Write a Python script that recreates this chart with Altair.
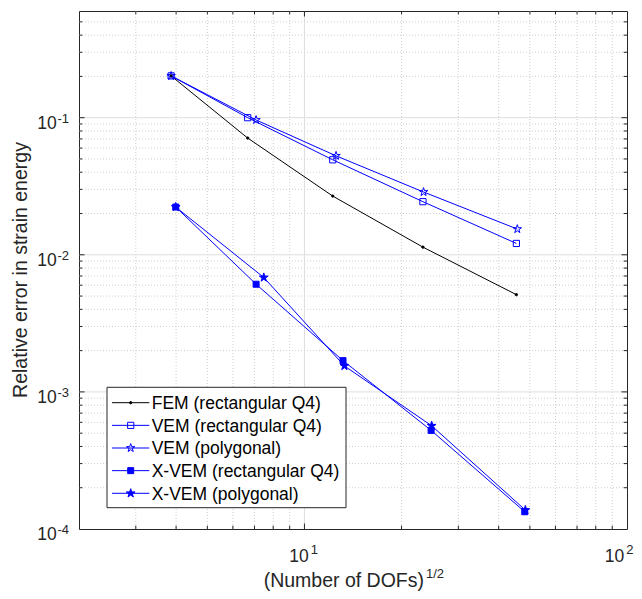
import altair as alt
import pandas as pd

# ---------------- data ----------------
names = ["FEM (rectangular Q4)", "VEM (rectangular Q4)", "VEM (polygonal)",
         "X-VEM (rectangular Q4)", "X-VEM (polygonal)"]

fem_x = [3.86, 6.67, 12.24, 23.3, 45.4]
fem_y = [0.2018, 0.0710, 0.0268, 0.01137, 0.00512]
vem_rect_x = [3.86, 6.67, 12.24, 23.3, 45.4]
vem_rect_y = [0.2018, 0.1000, 0.0493, 0.0244, 0.0121]
vem_poly_x = [3.86, 7.08, 12.53, 23.4, 45.7]
vem_poly_y = [0.2018, 0.0962, 0.0527, 0.0287, 0.0154]
xvem_rect_x = [3.99, 7.08, 13.17, 24.7, 48.2]
xvem_rect_y = [0.0223, 0.0061, 0.00169, 0.000524, 0.0001336]
xvem_poly_x = [3.99, 7.48, 13.3, 24.8, 48.4]
xvem_poly_y = [0.0223, 0.00683, 0.001547, 0.000566, 0.0001374]

x_major = [10]
x_minor = [3, 4, 5, 6, 7, 8, 9, 20, 30, 40, 50, 60, 70, 80, 90]
y_major = [1e-3, 1e-2, 1e-1]
y_minor = [2e-4, 3e-4, 4e-4, 5e-4, 6e-4, 7e-4, 8e-4, 9e-4,
           2e-3, 3e-3, 4e-3, 5e-3, 6e-3, 7e-3, 8e-3, 9e-3,
           2e-2, 3e-2, 4e-2, 5e-2, 6e-2, 7e-2, 8e-2, 9e-2,
           2e-1, 3e-1, 4e-1, 5e-1]
x_tick_vals = [10, 100]
x_tick_exp = ["1", "2"]
y_tick_vals = [1e-4, 1e-3, 1e-2, 1e-1]
y_tick_exp = ["-4", "-3", "-2", "-1"]

# ---------------- styles ----------------
W, H = 548, 518
FONT = "Liberation Sans"
AX = "#262626"
BLUE = "#0000ff"
colors = ["#000000", BLUE, BLUE, BLUE, BLUE]
fills = ["#000000", "transparent", "transparent", BLUE, BLUE]

def star(s):
    pts = [(0, -1), (0.2245, -0.309), (0.9511, -0.309), (0.3633, 0.118),
           (0.5878, 0.809), (0, 0.382), (-0.5878, 0.809), (-0.3633, 0.118),
           (-0.9511, -0.309), (-0.2245, -0.309)]
    return "M" + "L".join(f"{px*s:.4f},{py*s:.4f}" for px, py in pts) + "Z"

def square(s):
    return f"M{-s},{-s}L{s},{-s}L{s},{s}L{-s},{s}Z"

dot = "M0.24,0A0.24,0.24 0 1,1 -0.24,0A0.24,0.24 0 1,1 0.24,0Z"
shapes = [dot, square(0.62), star(0.88), square(0.6), star(0.92)]

XS = alt.Scale(type="log", domain=[2, 100], nice=False)
YS = alt.Scale(type="log", domain=[1e-4, 0.6], nice=False)

series = [(fem_x, fem_y), (vem_rect_x, vem_rect_y), (vem_poly_x, vem_poly_y),
          (xvem_rect_x, xvem_rect_y), (xvem_poly_x, xvem_poly_y)]
rows = []
for n, (xs, ys) in zip(names, series):
    for i, (a, b) in enumerate(zip(xs, ys)):
        rows.append({"series": n, "dofs": a, "err": b, "idx": i})
df = pd.DataFrame(rows)

col_scale = alt.Scale(domain=names, range=colors)
fill_scale = alt.Scale(domain=names, range=fills)
shape_scale = alt.Scale(domain=names, range=shapes)

def xq(f="v"):
    return alt.X(f"{f}:Q", scale=XS, axis=None)

def yq(f="v"):
    return alt.Y(f"{f}:Q", scale=YS, axis=None)

dxmin = pd.DataFrame({"v": x_minor})
dxmaj = pd.DataFrame({"v": x_major})
dymin = pd.DataFrame({"v": y_minor})
dymaj = pd.DataFrame({"v": y_major})

layers = []
# grid
layers.append(alt.Chart(dxmin).mark_rule(color="#cfcfcf", strokeDash=[1, 2], strokeWidth=1)
              .encode(x=xq(), y=alt.value(0), y2=alt.value(H)))
layers.append(alt.Chart(dymin).mark_rule(color="#cfcfcf", strokeDash=[1, 2], strokeWidth=1)
              .encode(y=yq(), x=alt.value(0), x2=alt.value(W)))
layers.append(alt.Chart(dxmaj).mark_rule(color="#dedede", strokeWidth=1)
              .encode(x=xq(), y=alt.value(0), y2=alt.value(H)))
layers.append(alt.Chart(dymaj).mark_rule(color="#dedede", strokeWidth=1)
              .encode(y=yq(), x=alt.value(0), x2=alt.value(W)))

# inward ticks on all four sides
for d, L in ((dxmin, 3.3), (dxmaj, 5.5)):
    layers.append(alt.Chart(d).mark_rule(color=AX, strokeWidth=1)
                  .encode(x=xq(), y=alt.value(H), y2=alt.value(H - L)))
    layers.append(alt.Chart(d).mark_rule(color=AX, strokeWidth=1)
                  .encode(x=xq(), y=alt.value(0), y2=alt.value(L)))
for d, L in ((dymin, 3.3), (dymaj, 5.5)):
    layers.append(alt.Chart(d).mark_rule(color=AX, strokeWidth=1)
                  .encode(y=yq(), x=alt.value(0), x2=alt.value(L)))
    layers.append(alt.Chart(d).mark_rule(color=AX, strokeWidth=1)
                  .encode(y=yq(), x=alt.value(W - L), x2=alt.value(W)))

# data lines and markers
layers.append(alt.Chart(df).mark_line(strokeWidth=1).encode(
    x=xq("dofs"), y=yq("err"),
    color=alt.Color("series:N", scale=col_scale, legend=None),
    order="idx:Q"))
layers.append(alt.Chart(df).mark_point(size=100, strokeWidth=1, opacity=1, filled=True).encode(
    x=xq("dofs"), y=yq("err"),
    shape=alt.Shape("series:N", scale=shape_scale, legend=None),
    stroke=alt.Stroke("series:N", scale=col_scale, legend=None),
    fill=alt.Fill("series:N", scale=fill_scale, legend=None)))

# legend (drawn by hand, MATLAB style)
one = pd.DataFrame({"a": [0]})
leg = pd.DataFrame({"series": names})
LY = alt.Y("series:N", scale=alt.Scale(type="point", domain=names, range=[391.7, 482.3], padding=0), axis=None)
layers.append(alt.Chart(one).mark_rect(fill="white", stroke=AX, strokeWidth=1).encode(
    x=alt.value(28), x2=alt.value(267), y=alt.value(376.3), y2=alt.value(496.7)))
layers.append(alt.Chart(leg).mark_rule(strokeWidth=1).encode(
    y=LY, x=alt.value(33), x2=alt.value(70.3),
    color=alt.Color("series:N", scale=col_scale, legend=None)))
layers.append(alt.Chart(leg).mark_point(size=100, strokeWidth=1, opacity=1, filled=True).encode(
    y=LY, x=alt.value(51.7),
    shape=alt.Shape("series:N", scale=shape_scale, legend=None),
    stroke=alt.Stroke("series:N", scale=col_scale, legend=None),
    fill=alt.Fill("series:N", scale=fill_scale, legend=None)))
layers.append(alt.Chart(leg).mark_text(align="left", baseline="alphabetic", dy=6.3,
                                       font=FONT, fontSize=17.5, color="black").encode(
    y=LY, x=alt.value(72.7), text="series:N"))

# tick labels 10^k
dyt = pd.DataFrame({"v": y_tick_vals, "e": y_tick_exp})
dxt = pd.DataFrame({"v": x_tick_vals, "e": x_tick_exp})
layers.append(alt.Chart(dyt).mark_text(align="right", baseline="alphabetic", dy=11.3,
                                       font=FONT, fontSize=17.5, color=AX).encode(
    y=yq(), x=alt.value(-22.3), text=alt.value("10")))
layers.append(alt.Chart(dyt).mark_text(align="left", baseline="alphabetic", dy=5.3,
                                       font=FONT, fontSize=13, color=AX).encode(
    y=yq(), x=alt.value(-21.5), text="e:N"))
# inner x labels centred on their tick; the last one is nudged left to stay on the page
for flt, shift in ((f"datum.v < {x_tick_vals[-1]}", 0), (f"datum.v >= {x_tick_vals[-1]}", -7)):
    layers.append(alt.Chart(dxt).transform_filter(flt).mark_text(
        align="right", baseline="alphabetic", dx=4.3 + shift,
        font=FONT, fontSize=17.5, color=AX).encode(
        x=xq(), y=alt.value(H + 33), text=alt.value("10")))
    layers.append(alt.Chart(dxt).transform_filter(flt).mark_text(
        align="left", baseline="alphabetic", dx=6.3 + shift,
        font=FONT, fontSize=13, color=AX).encode(
        x=xq(), y=alt.value(H + 25), text="e:N"))

# axis titles
layers.append(alt.Chart(one).mark_text(align="right", baseline="alphabetic",
                                       font=FONT, fontSize=19.5, color=AX).encode(
    x=alt.value(345), y=alt.value(H + 58), text=alt.value("(Number of DOFs)")))
layers.append(alt.Chart(one).mark_text(align="left", baseline="alphabetic",
                                       font=FONT, fontSize=13, color=AX).encode(
    x=alt.value(347), y=alt.value(H + 49), text=alt.value("1/2")))
layers.append(alt.Chart(one).mark_text(align="center", baseline="alphabetic", angle=270,
                                       font=FONT, fontSize=19.5, color=AX).encode(
    x=alt.value(-52.3), y=alt.value(H / 2), text=alt.value("Relative error in strain energy")))

chart = alt.layer(*layers).resolve_scale(y="independent").properties(
    width=W, height=H,
    autosize=alt.AutoSizeParams(type="none"),
    padding={"left": 71, "top": 3, "right": 7, "bottom": 62},
    background="white",
).configure_view(stroke=AX, strokeWidth=1)

chart.save("out.html", embed_options={"renderer": "svg", "actions": False})
